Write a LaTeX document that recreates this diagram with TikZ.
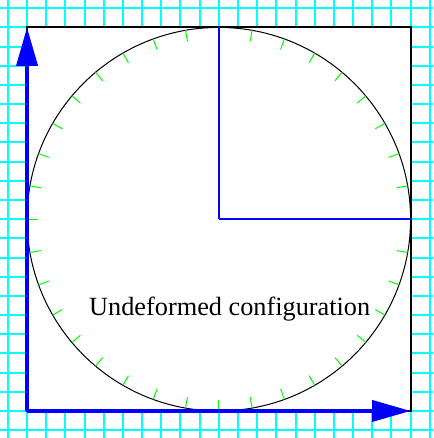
\documentclass[tikz,border=0pt]{standalone}
\usepackage{fontspec}
\setmainfont{Liberation Serif}
\usetikzlibrary{arrows.meta}
\definecolor{gridcyan}{RGB}{0,255,255}
\definecolor{tickgreen}{RGB}{0,255,0}
\definecolor{axisblue}{RGB}{0,0,255}

\begin{document}
\begin{tikzpicture}[
    x=0.5cm, y=0.5cm,
    gridline/.style={gridcyan, line width=1.5pt},
    frame/.style={draw=black, fill=white, line width=1.5pt},
    axisarrow/.style={-{Triangle[length=1cm, width=0.55cm]}, axisblue, line width=2.4pt},
    radiusline/.style={axisblue, line width=1.5pt},
    ticklet/.style={tickgreen, line width=0.75pt}
]
\useasboundingbox (-1.41,-1.41) rectangle (21.17,21.43);
\clip (-1.41,-1.41) rectangle (21.17,21.43);
\coordinate (O) at (0,0);
\coordinate (centre) at (10,10);
\coordinate (xend) at (20,0);
\coordinate (yend) at (0,20);
\coordinate (top) at (10,20);
\coordinate (right) at (20,10);
% background grid
\draw[gridline, step=0.5cm] (-2,-2) grid (23,23);
\draw[frame] (O) rectangle (20,20);
% reference circle with ticks
\draw[black, line width=0.75pt] (centre) circle (10);
\foreach \a in {0,10,...,350}
    \draw[ticklet, shift={(centre)}] (\a:10) -- (\a:9.42);
\draw[radiusline] (centre) -- (top);
\draw[radiusline] (centre) -- (right);
\draw[axisarrow] (O) -- (yend);
\draw[axisarrow] (O) -- (xend);
\node[anchor=base, font=\fontsize{19.5}{23}\selectfont] (label) at (10.57,5) {Undeformed configuration};
\end{tikzpicture}
\end{document}
